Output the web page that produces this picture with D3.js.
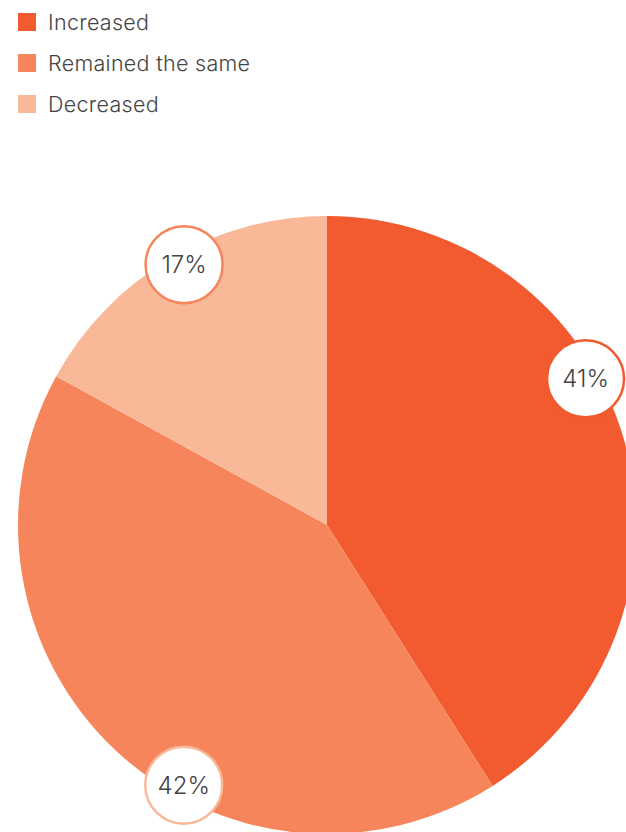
<!DOCTYPE html>
<html>
<head>
<meta charset="utf-8">
<script src="https://cdn.jsdelivr.net/npm/d3@7/dist/d3.min.js"></script>
<style>
  html, body { margin: 0; padding: 0; background: #fff; }
  svg { display: block; font-family: Inter, "Noto Sans", sans-serif; }
</style>
</head>
<body>
<svg id="chart" width="626" height="832"></svg>
<script>
// Share of respondents by change
const categories = ["Increased", "Remained the same", "Decreased"];
const values = [41, 42, 17];
const colors = ["#f25a2f", "#f6855b", "#f9b898"];
const labelStrokes = ["#f25a2f", "#f9b898", "#f6855b"];

const svg = d3.select("#chart");

// Legend
const legend = svg.append("g").attr("transform", "translate(18,13)");
categories.forEach((c, i) => {
  const row = legend.append("g").attr("transform", `translate(0,${i * 41})`);
  row.append("rect").attr("width", 18).attr("height", 18).attr("fill", colors[i]);
  row.append("text")
    .attr("x", 30).attr("y", 9)
    .attr("dominant-baseline", "central")
    .attr("font-size", 21.5)
    .attr("font-weight", 300)
    .attr("letter-spacing", 0.3)
    .attr("fill", "#444")
    .text(c);
});

// Pie
const cx = 327, cy = 525, R = 309;
const pie = d3.pie().sort(null).value(d => d)(values);
const arc = d3.arc().innerRadius(0).outerRadius(R);
const g = svg.append("g").attr("transform", `translate(${cx},${cy})`);

g.selectAll("path.slice")
  .data(pie)
  .join("path")
  .attr("class", "slice")
  .attr("d", arc)
  .attr("fill", (d, i) => colors[i]);

// Value bubbles near the rim
const labelR = 297;
const along = [0.41, 0.405, 0.53];
const bubbles = g.selectAll("g.bubble")
  .data(pie)
  .join("g")
  .attr("class", "bubble")
  .attr("transform", (d, i) => {
    const a = d.startAngle + along[i] * (d.endAngle - d.startAngle);
    return `translate(${labelR * Math.sin(a)},${-labelR * Math.cos(a)})`;
  });

bubbles.append("circle")
  .attr("r", 38.5)
  .attr("fill", "#fff")
  .attr("stroke", (d, i) => labelStrokes[i])
  .attr("stroke-width", 2.5);

bubbles.append("text")
  .attr("text-anchor", "middle")
  .attr("dominant-baseline", "central")
  .attr("font-size", 24)
  .attr("font-weight", 300)
  .attr("fill", "#444")
  .text(d => d.data + "%");
</script>
</body>
</html>
